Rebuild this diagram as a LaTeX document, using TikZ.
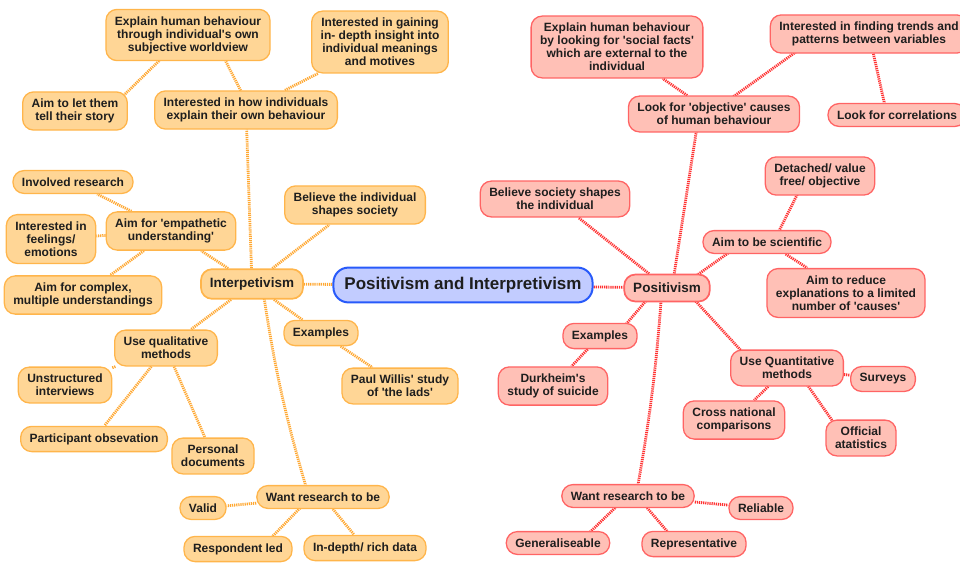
\documentclass[tikz,border=0pt]{standalone}
\usepackage{fontspec}
\setmainfont{Liberation Sans}
\usetikzlibrary{backgrounds}

\definecolor{ofill}{RGB}{255,214,150}
\definecolor{oline}{RGB}{255,181,75}
\definecolor{rfill}{RGB}{255,192,182}
\definecolor{rline}{RGB}{255,100,100}
\definecolor{bfill}{RGB}{194,204,255}
\definecolor{bline}{RGB}{40,90,250}
\definecolor{olinkc}{RGB}{255,168,50}
\definecolor{rlinkc}{RGB}{255,50,50}
\definecolor{ink}{RGB}{30,30,30}

% straight apostrophe
\newcommand\ap{\textquotesingle}

\tikzset{
  box/.style={rectangle, rounded corners=11pt, line width=1.3pt, align=center,
    inner xsep=9pt, inner ysep=7pt, text=ink,
    font=\bfseries\fontsize{12}{13}\selectfont},
  obox/.style={box, draw=oline, fill=ofill},
  rbox/.style={box, draw=rline, fill=rfill},
  hubbox/.style={inner xsep=9pt, inner ysep=8.5pt, line width=1.7pt,
    font=\bfseries\fontsize{13.5}{15}\selectfont},
  rootbox/.style={box, draw=bline, fill=bfill, line width=2pt, rounded corners=15pt,
    inner xsep=11pt, inner ysep=9.5pt, font=\bfseries\fontsize{17}{19}\selectfont},
  olink/.style={draw=olinkc, line width=2.8pt, dash pattern=on 1.2pt off 0.9pt},
  rlink/.style={draw=rlinkc, line width=2.8pt, dash pattern=on 1.2pt off 0.9pt},
}

\begin{document}
\begin{tikzpicture}[x=1pt, y=-1pt]
\useasboundingbox (0,0) rectangle (960,563);

% root
\node[rootbox] (root) at (463,285) {Positivism and Interpretivism};

% interpretivism branch
\node[obox, hubbox] (interp) at (252,284) {Interpetivism};
\node[obox] (explainO) at (188,35) {Explain human behaviour\\through individual\ap s own\\subjective worldview};
\node[obox] (gaining) at (380,42) {Interested in gaining\\in- depth insight into\\individual meanings\\and motives};
\node[obox] (letThem) at (75,111) {Aim to let them\\tell their story};
\node[obox] (howInd) at (246,110) {Interested in how individuals\\explain their own behaviour};
\node[obox] (involved) at (73,182) {Involved research};
\node[obox] (believeInd) at (355,205) {Believe the individual\\shapes society};
\node[obox] (empath) at (171,231) {Aim for \ap empathetic\\understanding\ap};
\node[obox] (feelings) at (51,239) {Interested in\\feelings/\\emotions};
\node[obox] (complex) at (83,295) {Aim for complex,\\multiple understandings};
\node[obox] (exO) at (321,333) {Examples};
\node[obox] (qual) at (166,348) {Use qualitative\\methods};
\node[obox] (willis) at (400,386) {Paul Willis\ap\ study\\of \ap the lads\ap};
\node[obox] (unstruct) at (65,385) {Unstructured\\interviews};
\node[obox] (particip) at (94,439) {Participant obsevation};
\node[obox] (persDoc) at (213,456) {Personal\\documents};
\node[obox] (wantO) at (323,497) {Want research to be};
\node[obox] (valid) at (203,508) {Valid};
\node[obox] (respond) at (238,549) {Respondent led};
\node[obox] (inDepth) at (365,548) {In-depth/ rich data};

% positivism branch
\node[rbox, hubbox] (pos) at (667,288) {Positivism};
\node[rbox] (explainR) at (617,47) {Explain human behaviour\\by looking for \ap social facts\ap\\which are external to the\\individual};
\node[rbox] (trends) at (869,34) {Interested in finding trends and\\patterns between variables};
\node[rbox] (lookObj) at (714,114) {Look for \ap objective\ap\ causes\\of human behaviour};
\node[rbox] (corr) at (897,115) {Look for correlations};
\node[rbox] (detached) at (820,176) {Detached/ value\\free/ objective};
\node[rbox] (believeSoc) at (555,199) {Believe society shapes\\the individual};
\node[rbox] (scient) at (767,242) {Aim to be scientific};
\node[rbox] (reduce) at (846,293) {Aim to reduce\\explanations to a limited\\number of \ap causes\ap};
\node[rbox] (exR) at (600,336) {Examples};
\node[rbox] (durk) at (553,386) {Durkheim\ap s\\study of suicide};
\node[rbox] (quant) at (787,368) {Use Quantitative\\methods};
\node[rbox] (surveys) at (883,379) {Surveys};
\node[rbox] (cross) at (734,420) {Cross national\\comparisons};
\node[rbox] (official) at (861,438) {Official\\atatistics};
\node[rbox] (wantR) at (628,496) {Want research to be};
\node[rbox] (reliable) at (761,508) {Reliable};
\node[rbox] (general) at (558,543) {Generaliseable};
\node[rbox] (repres) at (694,544) {Representative};

\begin{pgfonlayer}{background}
  % links of the interpretivism side
  \draw[olink] (root) -- (interp);
  \draw[olink] (interp) -- (howInd);
  \draw[olink] ([shift={(34,19)}]explainO.center) -- ([shift={(-2,-13)}]howInd.center);
  \draw[olink] (gaining) -- (howInd);
  \draw[olink] ([shift={(-23,20)}]explainO.center) -- ([shift={(43,-10)}]letThem.center);
  \draw[olink] (interp) -- (believeInd);
  \draw[olink] (interp) -- (empath);
  \draw[olink] (empath) -- (involved);
  \draw[olink] (empath) -- (feelings);
  \draw[olink] (empath) -- (complex);
  \draw[olink] (interp) -- (qual);
  \draw[olink] (qual) -- (unstruct);
  \draw[olink] (qual) -- (particip);
  \draw[olink] (qual) -- (persDoc);
  \draw[olink] (interp) -- (exO);
  \draw[olink] (exO) -- (willis);
  \draw[olink] ([xshift=10pt]interp.center) to[bend right=4] ([xshift=-14pt]wantO.center);
  \draw[olink] (wantO) -- (valid);
  \draw[olink] ([shift={(-20,8)}]wantO.center) -- ([shift={(30,-8)}]respond.center);
  \draw[olink] (wantO) -- (inDepth);
  % links of the positivism side
  \draw[rlink] (root) -- (pos);
  \draw[rlink] ([xshift=5pt]pos.center) -- ([xshift=-15pt]lookObj.center);
  \draw[rlink] (lookObj) -- (explainR);
  \draw[rlink] ([shift={(16,-15)}]lookObj.center) -- ([shift={(-69,15)}]trends.center);
  \draw[rlink] (trends) -- ([xshift=-10pt]corr.center);
  \draw[rlink] (pos) -- (believeSoc);
  \draw[rlink] ([shift={(26,-10)}]pos.center) -- ([shift={(-36,9)}]scient.center);
  \draw[rlink] ([shift={(10,-7)}]scient.center) -- ([shift={(-20,13)}]detached.center);
  \draw[rlink] (scient) -- (reduce);
  \draw[rlink] ([shift={(-17,8)}]pos.center) -- ([shift={(22,-7)}]exR.center);
  \draw[rlink] (exR) -- (durk);
  \draw[rlink] ([shift={(23,7)}]pos.center) -- ([shift={(-41,-12)}]quant.center);
  \draw[rlink] (quant) -- (surveys);
  \draw[rlink] (quant) -- (cross);
  \draw[rlink] ([shift={(19,15)}]quant.center) -- ([shift={(-25,-12)}]official.center);
  \draw[rlink] ([xshift=-5pt]pos.center) to[bend left=3] ([xshift=8pt]wantR.center);
  \draw[rlink] (wantR) -- (reliable);
  \draw[rlink] ([shift={(-10,9)}]wantR.center) -- ([shift={(29,-8)}]general.center);
  \draw[rlink] ([shift={(15,7)}]wantR.center) -- ([shift={(-22,-7)}]repres.center);
\end{pgfonlayer}
\end{tikzpicture}
\end{document}
